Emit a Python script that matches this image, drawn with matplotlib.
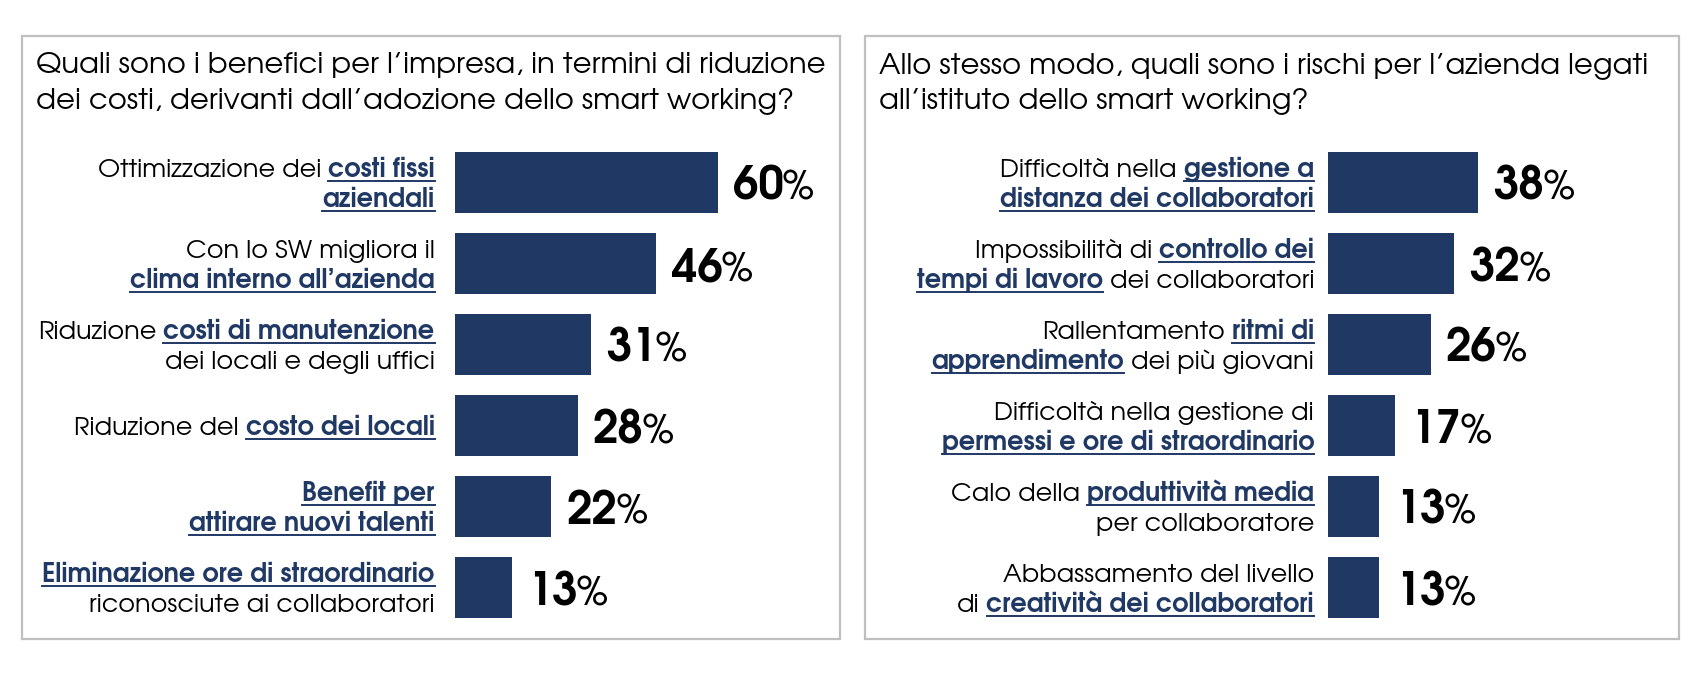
import re
import matplotlib.pyplot as plt
from matplotlib.transforms import IdentityTransform
from matplotlib.patches import Rectangle
from matplotlib.lines import Line2D

NAVY = "#1f3864"
FONT = ["TeX Gyre Adventor", "DejaVu Sans"]

# [..] = parte in grassetto blu sottolineata
left_title = ["Quali sono i benefici per l’impresa, in termini di riduzione",
              "dei costi, derivanti dall’adozione dello smart working?"]
left_labels = ["Ottimizzazione dei [costi fissi]\n[aziendali]",
               "Con lo SW migliora il\n[clima interno all’azienda]",
               "Riduzione [costi di manutenzione]\ndei locali e degli uffici",
               "Riduzione del [costo dei locali]",
               "[Benefit per]\n[attirare nuovi talenti]",
               "[Eliminazione ore di straordinario]\nriconosciute ai collaboratori"]
left_values = [60, 46, 31, 28, 22, 13]

right_title = ["Allo stesso modo, quali sono i rischi per l’azienda legati",
               "all’istituto dello smart working?"]
right_labels = ["Difficoltà nella [gestione a]\n[distanza dei collaboratori]",
                "Impossibilità di [controllo dei]\n[tempi di lavoro] dei collaboratori",
                "Rallentamento [ritmi di]\n[apprendimento] dei più giovani",
                "Difficoltà nella gestione di\n[permessi e ore di straordinario]",
                "Calo della [produttività media]\nper collaboratore",
                "Abbassamento del livello\ndi [creatività dei collaboratori]"]
right_values = [38, 32, 26, 17, 13, 13]

W, H = 1704, 675
fig = plt.figure(figsize=(W / 100, H / 100), dpi=100)
renderer = fig.canvas.get_renderer()
px = IdentityTransform()


def text_w(s, size, weight="normal"):
    t = fig.text(0, 0, s, fontsize=size, family=FONT, fontweight=weight, transform=px)
    w = t.get_window_extent(renderer).width
    t.remove()
    return w


def fit_size(s, target, weight="normal"):
    return 10 * target / text_w(s, 10, weight)


title_size = fit_size(left_title[0], 788)
label_size = fit_size("riconosciute ai collaboratori", 345)
num_size = fit_size("38", 51, "bold")
pct_size = num_size * 0.88
space = {wt: text_w("a a", label_size, wt) - text_w("aa", label_size, wt)
         for wt in ("normal", "bold")}


def rich_line(x, y, line):
    parts = [p for p in re.split(r"(\[[^\]]*\])", line) if p]
    for p in reversed(parts):
        hl = p.startswith("[")
        s = p.strip("[]")
        wt = "bold" if hl else "normal"
        if s.endswith(" "):
            x -= space[wt]
        s2 = s.strip()
        t = fig.text(x, y, s2, transform=px, ha="right", va="baseline",
                     fontsize=label_size, family=FONT, fontweight=wt,
                     color=NAVY if hl else "black")
        w = t.get_window_extent(renderer).width
        if hl:
            fig.add_artist(Line2D([x - w, x], [y - 4, y - 4], transform=px,
                                  color=NAVY, lw=1.4))
        x -= w
        if s.startswith(" "):
            x -= space[wt]


def panel(title, labels, values, box, bar_x, scale, lab_x):
    x0, y0, x1, y1 = box
    fig.add_artist(Rectangle((x0, H - y1), x1 - x0, y1 - y0, transform=px,
                             fill=False, ec="#bfbfbf", lw=1.6))
    for k, line in enumerate(title):
        fig.text(x0 + 14, H - 73 - 35 * k, line, transform=px, va="baseline",
                 fontsize=title_size, family=FONT, color="black")

    ax = fig.add_axes([bar_x / W, 47 / H, scale * 80 / W, 486 / H])
    ax.barh(range(len(values)), values, height=0.753, color=NAVY)
    ax.set_xlim(0, 80)
    ax.set_ylim(len(values) - 0.5, -0.5)
    ax.axis("off")
    for i, v in enumerate(values):
        t = ax.annotate(f"{v}", (v, i), xytext=(11, -12.6), textcoords="offset points",
                        va="baseline", ha="left", fontsize=num_size, fontweight="bold",
                        family=FONT, color="black")
        bb = t.get_window_extent(renderer)
        xb, yb = ax.transData.transform((v, i))
        fig.text(bb.x1 - 1, yb - 17.5, "%", transform=px, va="baseline", ha="left",
                 fontsize=pct_size, family=FONT, color="black")

    em = label_size * 100 / 72
    for i, lab in enumerate(labels):
        yc = ax.transData.transform((0, i))[1]
        lines = lab.split("\n")
        n = len(lines)
        for k, line in enumerate(lines):
            yb = yc + (n - 1) / 2 * 30 - 30 * k - 0.36 * em
            rich_line(lab_x, yb, line)


panel(left_title, left_labels, left_values, (22, 36, 840, 639), 455, 4.38, 434.5)
panel(right_title, right_labels, right_values, (865, 36, 1679, 639), 1328, 3.95, 1314)

fig.savefig("out.png", dpi=100)
